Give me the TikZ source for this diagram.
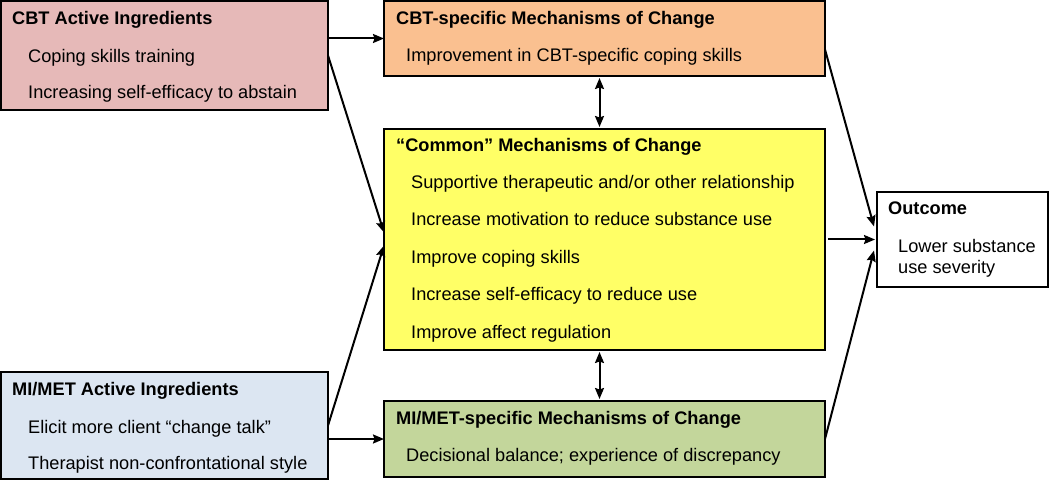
\documentclass[tikz,border=0pt]{standalone}
\usepackage{fontspec}
\setmainfont{Liberation Sans}
\usetikzlibrary{arrows.meta}
\definecolor{cpink}{HTML}{E6B9B8}
\definecolor{corange}{HTML}{FAC090}
\definecolor{cyellow}{HTML}{FFFF66}
\definecolor{cblue}{HTML}{DCE6F2}
\definecolor{cgreen}{HTML}{C3D69B}
\begin{document}
\begin{tikzpicture}[x=1pt,y=-1pt,
  box/.style={draw=black, line width=2.2pt, anchor=north west, inner sep=0pt, outer sep=0pt},
  ttl/.style={anchor=base west, inner sep=0pt, font=\fontsize{18.2}{21}\selectfont\bfseries},
  itm/.style={anchor=base west, inner sep=0pt, font=\fontsize{18.2}{21}\selectfont},
  conn/.style={line width=2pt, -{Stealth[length=11pt,width=9pt,inset=1.5pt]}},
  dconn/.style={line width=2pt, {Stealth[length=11pt,width=9pt,inset=1.5pt]}-{Stealth[length=11pt,width=9pt,inset=1.5pt]}}]
\useasboundingbox (0,0) rectangle (1050,481);
% boxes
\node[box, fill=cpink, minimum width=327pt, minimum height=109pt] (cbtA) at (1,1) {};
\node[box, fill=corange, minimum width=441pt, minimum height=75pt] (cbtM) at (384,1) {};
\node[box, fill=cyellow, minimum width=441pt, minimum height=221pt] (com) at (384,129) {};
\node[box, fill=white, minimum width=171pt, minimum height=95pt] (out) at (877,192) {};
\node[box, fill=cblue, minimum width=327pt, minimum height=107pt] (miA) at (1,372) {};
\node[box, fill=cgreen, minimum width=441pt, minimum height=76pt] (miM) at (384,401) {};
% texts
\node[ttl] (t1) at (12,25) {CBT Active Ingredients};
\node[itm] (t1a) at (28,63) {Coping skills training};
\node[itm] (t1b) at (28,99) {Increasing self-efficacy to abstain};
\node[ttl] (t2) at (396,25) {CBT-specific Mechanisms of Change};
\node[itm] (t2a) at (406,62) {Improvement in CBT-specific coping skills};
\node[ttl] (t3) at (396,152) {“Common” Mechanisms of Change};
\node[itm] (t3a) at (411,189) {Supportive therapeutic and/or other relationship};
\node[itm] (t3b) at (411,226) {Increase motivation to reduce substance use};
\node[itm] (t3c) at (411,263.5) {Improve coping skills};
\node[itm] (t3d) at (411,300.5) {Increase self-efficacy to reduce use};
\node[itm] (t3e) at (411,338) {Improve affect regulation};
\node[ttl] (t4) at (888,215) {Outcome};
\node[itm] (t4a) at (898,253) {Lower substance};
\node[itm] (t4b) at (898,274) {use severity};
\node[ttl] (t5) at (12,395) {MI/MET Active Ingredients};
\node[itm] (t5a) at (28,433) {Elicit more client “change talk”};
\node[itm] (t5b) at (28,469) {Therapist non-confrontational style};
\node[ttl] (t6) at (396,424) {MI/MET-specific Mechanisms of Change};
\node[itm] (t6a) at (406,461) {Decisional balance; experience of discrepancy};
% connectors
\draw[conn] (cbtA.east |- cbtM.west) -- (cbtM.west);
\draw[conn] (cbtA.east) -- ([yshift=7pt]com.west);
\draw[conn] (miA.east) -- ([yshift=-6pt]com.west);
\draw[conn] (miA.east |- miM.west) -- (miM.west);
\draw[conn] ([xshift=3pt]com.east) -- ([xshift=-2pt]out.west);
\draw[conn] ([yshift=-11pt]cbtM.east) -- ([yshift=13pt,xshift=-3pt]out.west);
\draw[conn] (miM.east) -- ([yshift=-11pt,xshift=-3pt]out.west);
\draw[dconn] ([xshift=-5pt,yshift=-2pt]cbtM.south) -- ([xshift=-5pt,yshift=2pt]com.north);
\draw[dconn] ([xshift=-5pt,yshift=-2pt]com.south) -- ([xshift=-5pt,yshift=2pt]miM.north);
\end{tikzpicture}
\end{document}
